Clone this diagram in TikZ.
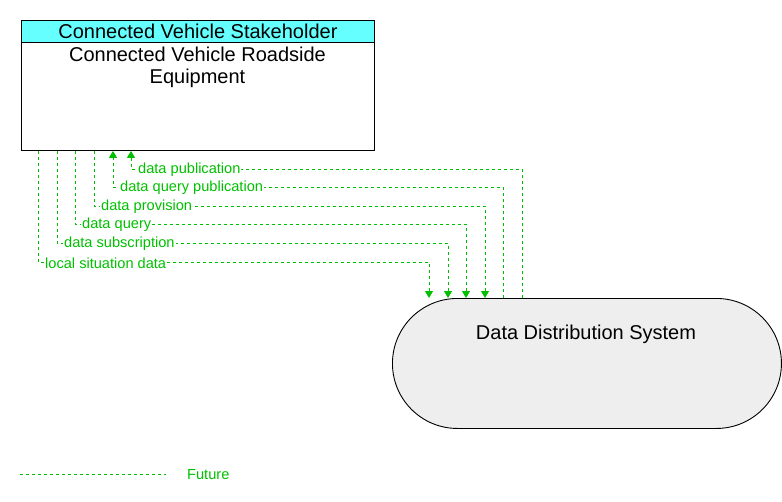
\documentclass[tikz,border=0pt]{standalone}
\usepackage{fontspec}
\setmainfont{Liberation Sans}
\usetikzlibrary{arrows.meta}
\definecolor{flowgreen}{RGB}{0,192,0}
\definecolor{hdrcyan}{RGB}{102,255,255}
\definecolor{ddsgray}{RGB}{238,238,238}
\tikzset{
  flow/.style={draw=flowgreen, line width=0.9pt, dash pattern=on 3pt off 3pt},
  arr/.style={-{Triangle[width=8pt,length=7pt]}},
  flowlabel/.style={anchor=west, fill=white, inner sep=1pt, xshift=6pt, yshift=-1pt, text=flowgreen, font=\fontsize{14.6}{16}\selectfont},
  bigtext/.style={font=\fontsize{20}{22}\selectfont}
}
\begin{document}
\begin{tikzpicture}[x=1pt,y=-1pt]
\useasboundingbox (0,0) rectangle (782,501);
% top box
\node[draw, line width=0.9pt, anchor=north west, minimum width=353pt, minimum height=130pt, inner sep=0] (rse) at (21,20) {};
\node[draw, line width=0.9pt, fill=hdrcyan, anchor=north west, minimum width=353pt, minimum height=22pt, inner sep=0, bigtext] (hdr) at (21,20) {Connected Vehicle Stakeholder};
\node[anchor=north, align=center, bigtext, inner sep=0] (rsetext) at (197.5,46.5) {Connected Vehicle Roadside\\Equipment};
% DDS
\node[draw, line width=0.9pt, fill=ddsgray, rounded corners=65pt, anchor=north west, minimum width=389pt, minimum height=130pt, inner sep=0] (dds) at (392,298) {};
\node[bigtext, inner sep=0] (ddstext) at (586,334) {Data Distribution System};
% corner coordinates
\coordinate (a1) at (522,169); \coordinate (b1) at (131,169);
\coordinate (a2) at (503,187); \coordinate (b2) at (113,187);
\coordinate (a3) at (485,206); \coordinate (b3) at (94,206);
\coordinate (a4) at (466,224); \coordinate (b4) at (75,224);
\coordinate (a5) at (448,243); \coordinate (b5) at (57,243);
\coordinate (a6) at (429,262); \coordinate (b6) at (38,262);
% flows
\draw[flow, arr] (dds.north -| a1) -- (a1) -- (b1) -- (rse.south -| b1);
\draw[flow, arr] (dds.north -| a2) -- (a2) -- (b2) -- (rse.south -| b2);
\draw[flow, arr] (rse.south -| b3) -- (b3) -- (a3) -- (dds.north -| a3);
\draw[flow, arr] (rse.south -| b4) -- (b4) -- (a4) -- (dds.north -| a4);
\draw[flow, arr] (rse.south -| b5) -- (b5) -- (a5) -- (dds.north -| a5);
\draw[flow, arr] (rse.south -| b6) -- (b6) -- (a6) -- (dds.north -| a6);
% labels
\node[flowlabel] (l1) at (b1) {data publication};
\node[flowlabel] (l2) at (b2) {data query publication};
\node[flowlabel] (l3) at (b3) {data provision};
\node[flowlabel] (l4) at (b4) {data query};
\node[flowlabel] (l5) at (b5) {data subscription};
\node[flowlabel] (l6) at (b6) {local situation data};
% legend
\coordinate (lg1) at (20,474); \coordinate (lg2) at (166,474);
\draw[flow] (lg1) -- (lg2);
\node[anchor=west, inner sep=0, text=flowgreen, font=\fontsize{14.6}{16}\selectfont] (future) at (187,475) {Future};
\end{tikzpicture}
\end{document}
